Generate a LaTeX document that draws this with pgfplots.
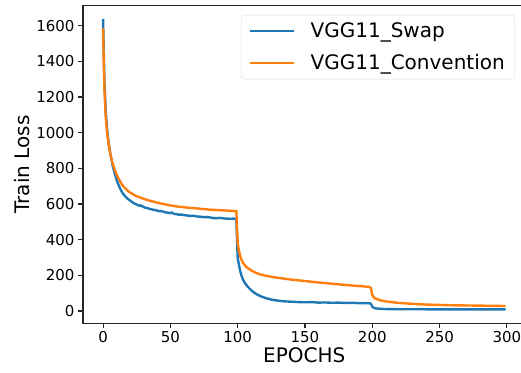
\documentclass[border=0pt]{standalone}
\usepackage{pgfplots}
\pgfplotsset{compat=1.18}
\usepackage{fontspec}
\setmainfont{DejaVu Sans}
\definecolor{tabblue}{HTML}{1F77B4}
\definecolor{taborange}{HTML}{FF7F0E}
\begin{document}
\begin{tikzpicture}
\begin{axis}[
  scale only axis,
  width=442.6pt, height=317.6pt,
  xmin=-14.9, xmax=313.9,
  ymin=-69, ymax=1712,
  xtick={0,50,100,150,200,250,300},
  ytick={0,200,400,600,800,1000,1200,1400,1600},
  xtick pos=bottom, ytick pos=left,
  tick align=outside,
  major tick length=5pt,
  axis line style={line width=1.1pt, black!85},
  every tick/.style={line width=1.1pt, black!85},
  tick label style={font=\fontsize{15}{18}\selectfont},
  /pgf/number format/assume math mode=true,
  scaled y ticks=false,
  yticklabel style={/pgf/number format/set thousands separator={}},
  xlabel={EPOCHS}, ylabel={Train Loss},
  xlabel style={at={(axis description cs:0.5,-0.1008)}, anchor=center, font=\fontsize{20}{24}\selectfont},
  ylabel style={at={(axis description cs:-0.138,0.5)}, rotate=0, anchor=center, font=\fontsize{20}{24}\selectfont},
  legend style={at={(0.976,0.971)}, anchor=north east,
    draw=black!15, rounded corners=3pt, fill=white,
    font=\fontsize{20}{24}\selectfont,
    inner xsep=8pt, inner ysep=6pt,
    row sep=11pt, column sep=13pt},
  legend cell align=left,
  legend image code/.code={\draw[#1, line width=2.4pt] (0pt,0pt) -- (44pt,0pt);},
]
\addplot[tabblue, line width=2.4pt] coordinates {
(0,1638) (1,1290) (2,1120) (3,1020) (4,950) (5,900) (6,858) (7,820) (8,790) (9,762)
(10,738) (11,716) (12,698) (13,682) (14,668) (15,656) (17,638) (19,625) (21,614) (23,604)
(25,597) (27,590) (28,592) (31,580) (33,577) (34,574) (36,570) (37,568) (39,566) (40,563)
(42,560) (43,561) (46,554) (48,551) (50,549) (51,552) (53,544) (55,543) (56,540) (58,541)
(60,538) (62,536) (65,533) (67,534) (70,530) (72,529) (75,526) (77,527) (80,524) (82,521)
(85,521) (87,522) (90,519) (92,518) (95,517) (97,518) (99,516)
(100,300) (101,255) (102,220) (103,195) (104,175) (106,150) (108,132) (110,117) (112,104)
(115,90) (118,80) (121,72) (125,64) (130,58) (135,54) (140,52) (145,50) (150,49) (155,50)
(160,47) (165,48) (170,46) (175,47) (180,45) (185,46) (190,44) (195,44) (198,43) (199,40)
(200,25) (201,18) (203,14) (206,12) (210,11) (220,10) (240,9.5) (260,9) (280,9) (299,9)
};
\addlegendentry{VGG11\_Swap}
\addplot[taborange, line width=2.4pt] coordinates {
(0,1585) (1,1245) (2,1085) (3,1000) (4,942) (5,897) (6,862) (7,832) (8,807) (9,786)
(10,767) (11,750) (12,736) (13,722) (14,710) (15,700) (17,684) (19,670) (21,660) (23,651)
(25,644) (28,635) (31,627) (34,620) (37,614) (40,608) (43,603) (46,598) (50,592) (55,586)
(60,582) (65,578) (70,575) (75,571) (80,568) (85,566) (90,564) (95,562) (99,560)
(100,380) (101,335) (102,305) (103,285) (104,270) (106,250) (108,238) (110,228) (113,216)
(116,207) (120,199) (125,192) (130,186) (135,181) (140,176) (145,172) (150,168) (160,160)
(170,153) (180,146) (190,140) (198,135) (199,128)
(200,90) (201,78) (202,71) (204,65) (207,58) (210,54) (215,49) (220,45) (230,40) (240,36)
(250,34) (260,32) (270,31) (280,30) (290,29) (299,28)
};
\addlegendentry{VGG11\_Convention}
\end{axis}
\pgfresetboundingbox
\path (-83pt,-48.7pt) rectangle (438pt,323.3pt);
\end{tikzpicture}
\end{document}
